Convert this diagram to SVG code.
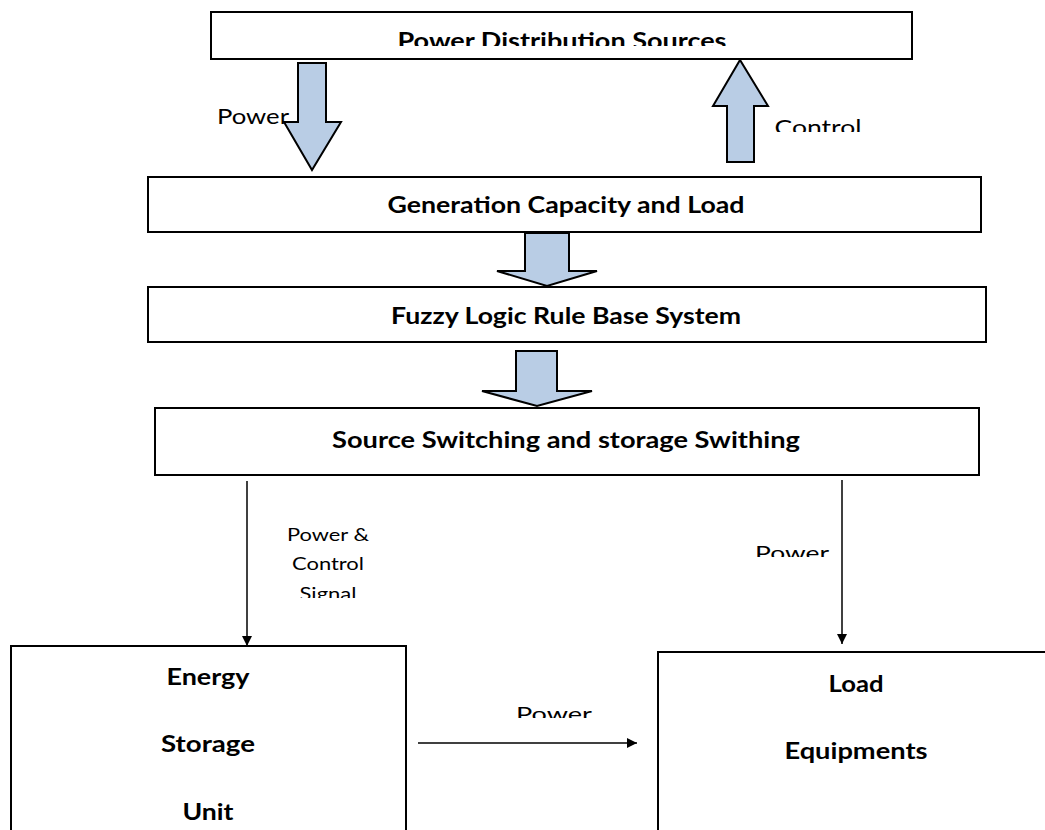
<svg xmlns="http://www.w3.org/2000/svg" width="1045" height="830" viewBox="0 0 1045 830">
<style>
.box{fill:#fff;stroke:#000;stroke-width:2}
.blk{fill:#b9cde5;stroke:#000;stroke-width:2;stroke-linejoin:miter}
.t{font-family:Lato,"Liberation Sans",sans-serif;font-weight:bold;fill:#000;text-anchor:middle}
.l{font-family:Lato,"Liberation Sans",sans-serif;fill:#000;text-anchor:middle}
.wire{stroke:#000;stroke-width:1.5;fill:none}
</style>
<defs>
<marker id="ah" viewBox="0 0 10 10" refX="10" refY="5" markerWidth="10" markerHeight="12" markerUnits="userSpaceOnUse" orient="auto"><path d="M0,0 L10,5 L0,10 z" fill="#000"/></marker>
<clipPath id="c1"><rect x="0" y="0" width="1045" height="46"/></clipPath>
<clipPath id="c2"><rect x="0" y="0" width="1045" height="132"/></clipPath>
<clipPath id="c3"><rect x="0" y="0" width="1045" height="598"/></clipPath>
<clipPath id="c4"><rect x="0" y="0" width="1045" height="557"/></clipPath>
<clipPath id="c5"><rect x="0" y="0" width="1045" height="718"/></clipPath>
</defs>

<g id="n-power-distribution">
<rect class="box" x="211" y="12" width="701" height="47"/>
<text class="t" x="562" y="49" font-size="22" textLength="329" lengthAdjust="spacingAndGlyphs" clip-path="url(#c1)">Power Distribution Sources</text>
</g>

<g id="n-generation">
<rect class="box" x="148" y="177" width="833" height="55"/>
<text class="t" x="566" y="213" font-size="23" textLength="357" lengthAdjust="spacingAndGlyphs">Generation Capacity and Load</text>
</g>

<g id="n-fuzzy">
<rect class="box" x="148" y="287" width="838" height="55"/>
<text class="t" x="566" y="324" font-size="23" textLength="350" lengthAdjust="spacingAndGlyphs">Fuzzy Logic Rule Base System</text>
</g>

<g id="n-switching">
<rect class="box" x="155" y="408" width="824" height="67"/>
<text class="t" x="566" y="448" font-size="23" textLength="468" lengthAdjust="spacingAndGlyphs">Source Switching and storage Swithing</text>
</g>

<g id="n-storage">
<rect class="box" x="11" y="646" width="395" height="200"/>
<text class="t" x="208" y="685" font-size="23" textLength="83" lengthAdjust="spacingAndGlyphs">Energy</text>
<text class="t" x="208" y="752" font-size="23" textLength="94" lengthAdjust="spacingAndGlyphs">Storage</text>
<text class="t" x="208" y="820" font-size="23" textLength="51" lengthAdjust="spacingAndGlyphs">Unit</text>
</g>

<g id="n-load">
<rect class="box" x="658" y="652" width="400" height="200"/>
<text class="t" x="856" y="692" font-size="23" textLength="55" lengthAdjust="spacingAndGlyphs">Load</text>
<text class="t" x="856" y="759" font-size="23" textLength="143" lengthAdjust="spacingAndGlyphs">Equipments</text>
</g>

<g id="connectors">
<path class="blk" d="M298,63 L326,63 L326,122 L341,122 L312,170 L284,122 L298,122 Z"/>
<path class="blk" d="M727,162 L754,162 L754,106 L768,106 L740,60 L713,106 L727,106 Z"/>
<path class="blk" d="M525,233 L569,233 L569,271 L597,271 L547,286 L497,271 L525,271 Z"/>
<path class="blk" d="M516,351 L557,351 L557,391 L592,391 L537,406 L482,391 L516,391 Z"/>
<line class="wire" x1="247" y1="481" x2="247" y2="646" marker-end="url(#ah)"/>
<line class="wire" x1="842" y1="480" x2="842" y2="644" marker-end="url(#ah)"/>
<line class="wire" x1="418" y1="743" x2="637" y2="743" marker-end="url(#ah)"/>
</g>

<g id="labels">
<text class="l" x="253" y="124" font-size="21" textLength="72" lengthAdjust="spacingAndGlyphs">Power</text>
<text class="l" x="818" y="135" font-size="21" textLength="87" lengthAdjust="spacingAndGlyphs" clip-path="url(#c2)">Control</text>
<text class="l" x="328" y="541" font-size="18" textLength="82" lengthAdjust="spacingAndGlyphs">Power &amp;</text>
<text class="l" x="328" y="570" font-size="18" textLength="72" lengthAdjust="spacingAndGlyphs">Control</text>
<text class="l" x="328" y="600" font-size="18" textLength="57" lengthAdjust="spacingAndGlyphs" clip-path="url(#c3)">Signal</text>
<text class="l" x="792" y="560" font-size="20" textLength="74" lengthAdjust="spacingAndGlyphs" clip-path="url(#c4)">Power</text>
<text class="l" x="554" y="721" font-size="20" textLength="76" lengthAdjust="spacingAndGlyphs" clip-path="url(#c5)">Power</text>
</g>
</svg>
